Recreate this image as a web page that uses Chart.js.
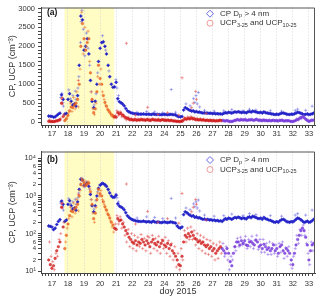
<!DOCTYPE html>
<html>
<head>
<meta charset="utf-8">
<script src="https://cdn.jsdelivr.net/npm/chart.js@4.4.1/dist/chart.umd.min.js"></script>
<style>
  body { margin: 0; background: #fff; width: 320px; height: 301px; overflow: hidden; position: relative; }
  canvas { position: absolute; left: 0; }
  #panelA { top: 0; }
  #panelB { top: 145px; }
</style>
</head>
<body>
<canvas id="panelA" width="320" height="145"></canvas>
<canvas id="panelB" width="320" height="156"></canvas>
<script>
// sampling of the main series: one value every 0.1 day, starting at doy 16.8
const dayStart = 16.8;
const dayStep = 0.1;
const xMin = 16.32, xMax = 33.38;
const shadeFrom = 17.78, shadeTo = 20.88;   // yellow period
const purpleFrom = 27.6;                    // UCP shown in purple after this day

const dayTicks = [17, 18, 19, 20, 21, 22, 23, 24, 25, 26, 27, 28, 29, 30, 31, 32, 33];
const linearTicks = [0, 500, 1000, 1500, 2000, 2500, 3000];
const logTicks = [10, 100, 1000, 10000];
const logMinorLabels = [2, 4, 6];

// CP Dp > 4 nm, 16.8 .. 33.3
const cpValues = [
  160, 155, 150, 128, 140, 175, 210, 235, 720, 600,
  210, 230, 600, 750, 550, 450, 480, 420, 700, 1500,
  2800, 2700, 1900, 2000, 2200, 1800, 1100, 550, 380, 550,
  1000, 1600, 1950, 2100, 2120, 2000, 1800, 1500, 1200, 1000,
  920, 930, 1050, 620, 540, 510, 480, 430, 360, 300,
  270, 250, 235, 228, 220, 215, 212, 210, 210, 215,
  208, 205, 210, 205, 200, 215, 205, 200, 205, 200,
  195, 200, 205, 200, 195, 200, 205, 200, 195, 190,
  160, 145, 140, 150, 320, 380, 360, 330, 310, 290,
  300, 270, 280, 260, 265, 250, 240, 245, 235, 240,
  230, 235, 225, 230, 220, 225, 215, 220, 210, 230,
  250, 240, 260, 250, 240, 255, 270, 260, 275, 265,
  250, 260, 255, 245, 270, 280, 265, 290, 280, 270,
  255, 250, 260, 240, 270, 250, 240, 230, 225, 215,
  205, 200, 210, 200, 220, 235, 240, 230, 210, 205,
  200, 210, 205, 220, 240, 260, 250, 235, 215, 200,
  205, 215, 200, 205, 220, 240
];
// UCP 3-25 / 10-25, 16.8 .. 27.5
const ucpValues = [
  20, 15, 12, 14, 22, 35, 45, 60, 500, 150,
  40, 90, 180, 300, 400, 380, 450, 500, 600, 1000,
  2000, 2600, 2200, 1900, 2100, 2200, 1300, 600, 250, 350,
  800, 1500, 1150, 1000, 700, 520, 420, 320, 260, 200,
  170, 140, 130, 250, 220, 230, 180, 150, 120, 100,
  80, 70, 60, 55, 65, 50, 60, 55, 70, 60,
  50, 65, 55, 45, 60, 70, 55, 50, 60, 45,
  55, 65, 50, 45, 55, 40, 50, 35, 30, 25,
  20, 15, 14, 25, 60, 90, 80, 100, 85, 110,
  90, 75, 70, 60, 65, 55, 60, 50, 45, 50,
  40, 45, 35, 40, 30, 35, 40, 45
];
// UCP, second instrument readings, 16.85 .. 27.55
const ucpSpread = [
  60, 25, 18, 11, 30, 25, 70, 100, 650, 200,
  60, 140, 250, 500, 280, 650, 350, 800, 400, 1400,
  2900, 1800, 2500, 2000, 2400, 1600, 800, 350, 200, 500,
  1200, 1000, 1400, 800, 600, 450, 350, 300, 220, 150,
  110, 180, 300, 180, 280, 140, 200, 90, 60, 130,
  45, 100, 40, 90, 35, 80, 45, 95, 40, 75,
  35, 85, 80, 30, 90, 40, 75, 35, 85, 30,
  70, 40, 80, 30, 65, 25, 55, 20, 45, 13,
  30, 11, 40, 20, 120, 60, 140, 70, 150, 70,
  120, 50, 100, 40, 90, 35, 80, 30, 70, 28,
  65, 25, 55, 20, 50, 22, 60, 30
];
// UCP after 27.6 (purple), 27.6 .. 33.3
const ucpLate = [
  40, 35, 30, 40, 30, 18, 14, 30, 45, 60,
  60, 50, 65, 55, 65, 50, 48, 60, 62, 55,
  50, 68, 60, 45, 50, 40, 52, 45, 38, 42,
  35, 40, 50, 35, 40, 30, 45, 50, 35, 30,
  40, 35, 30, 20, 15, 30, 50, 70, 90, 120,
  140, 120, 80, 50, 20, 35, 50, 55
];
// 27.65 .. 33.25
const ucpLateSpread = [
  55, 25, 45, 20, 11, 25, 20, 45, 35, 75,
  45, 80, 50, 55, 85, 40, 70, 45, 85, 40,
  65, 90, 38, 70, 32, 70, 32, 55, 28, 60,
  28, 55, 30, 50, 25, 55, 32, 60, 22, 42,
  25, 45, 15, 12, 25, 40, 90, 55, 130, 90,
  170, 90, 55, 30, 15, 60, 35
];
// isolated readings [doy, value]
const cpOutliers = [
  [17.55, 650], [17.62, 760], [17.68, 520], [17.72, 420], [18.05, 850], [18.15, 620],
  [18.3, 700], [18.45, 820], [18.5, 600], [18.62, 900], [18.68, 1200], [18.78, 2100],
  [18.82, 2650], [18.87, 2950], [18.95, 2450], [19.05, 1750], [19.15, 2350], [19.25, 1950],
  [19.35, 1500], [19.45, 800], [19.62, 450], [19.75, 750], [19.85, 1300], [20.15, 2280],
  [20.35, 1900], [20.55, 1350], [20.98, 1120], [21.05, 900], [21.15, 700], [22.3, 260],
  [22.9, 280], [23.4, 270], [23.9, 250], [24.43, 860], [24.7, 260], [25.35, 480],
  [25.6, 430], [25.82, 620], [25.9, 520], [25.97, 700], [26.05, 480], [26.12, 780],
  [26.2, 400], [26.5, 310], [27.1, 290], [27.7, 300], [28.2, 330], [28.9, 300],
  [29.3, 340], [29.7, 320], [30.6, 300], [31.3, 290], [32.15, 310], [32.3, 340],
  [32.8, 310], [33.2, 420]
];
const ucpOutliers = [
  [17.6, 620], [17.65, 480], [18.65, 1100], [21.64, 2080], [22.96, 390], [25.1, 1170],
  [25.7, 380], [25.8, 500], [25.95, 810], [26.0, 600], [24.2, 250], [22.2, 180],
  [23.6, 200], [24.9, 190], [26.6, 230]
];

const legendCP = [['CP D'], ['p', true], [' > 4 nm']];
const legendUCP = [['UCP'], ['3-25', true], [' and UCP'], ['10-25', true]];

const FONT = '"Liberation Sans", Arial, sans-serif';
Chart.defaults.font.family = FONT;
Chart.defaults.color = '#333';

function series(values, start) {
  return values.map((v, i) => ({ x: Math.round((start + i * dayStep) * 100) / 100, y: v }));
}
function pairs(list) {
  return list.map(p => ({ x: p[0], y: p[1] }));
}
function isInt(v) {
  return v != null && Math.abs(v - Math.round(v)) < 1e-6;
}
function inShade(x) {
  return x >= shadeFrom && x <= shadeTo;
}

function buildDatasets() {
  const ucpColor = c => inShade(c.raw.x) ? 'rgba(232,96,30,0.8)' : 'rgba(208,26,26,0.8)';
  const ucpLight = c => inShade(c.raw.x) ? 'rgba(236,120,50,0.55)' : 'rgba(222,60,60,0.45)';
  return [
    { data: series(ucpValues, dayStart), pointStyle: 'circle', pointRadius: 1.3,
      backgroundColor: ucpColor, borderColor: ucpColor, borderWidth: 0.5 },
    { data: series(ucpSpread, dayStart + 0.05), pointStyle: 'cross', pointRadius: 1.6,
      borderColor: ucpLight, borderWidth: 1 },
    { data: pairs(ucpOutliers), pointStyle: 'cross', pointRadius: 1.6,
      borderColor: 'rgba(225,80,80,0.55)', borderWidth: 1 },
    { data: series(ucpLate, purpleFrom), pointStyle: 'circle', pointRadius: 1.3,
      backgroundColor: 'rgba(120,60,220,0.85)', borderColor: 'rgba(120,60,220,0.85)', borderWidth: 0.5 },
    { data: series(ucpLateSpread, purpleFrom + 0.05), pointStyle: 'cross', pointRadius: 1.6,
      borderColor: 'rgba(140,95,230,0.5)', borderWidth: 1 },
    { data: series(cpValues, dayStart), pointStyle: 'rectRot', pointRadius: 1.6,
      backgroundColor: '#2323c8', borderColor: '#2323c8', borderWidth: 0.5 },
    { data: pairs(cpOutliers), pointStyle: 'cross', pointRadius: 1.6,
      borderColor: 'rgba(110,110,225,0.55)', borderWidth: 1 }
  ];
}

function drawRich(ctx, x, y, parts) {
  for (const [t, sub] of parts) {
    ctx.font = (sub ? '5.5px ' : '8px ') + FONT;
    ctx.fillText(t, x, sub ? y + 2 : y);
    x += ctx.measureText(t).width;
  }
}

const panelDeco = {
  id: 'panelDeco',
  beforeDraw(chart) {
    const { ctx, chartArea: a, scales: { x } } = chart;
    const x0 = x.getPixelForValue(shadeFrom), x1 = x.getPixelForValue(shadeTo);
    ctx.save();
    ctx.fillStyle = '#fffcc4';
    ctx.fillRect(x0, a.top, x1 - x0, a.bottom - a.top);
    ctx.restore();
  },
  afterDraw(chart, args, opts) {
    const { ctx, chartArea: a } = chart;
    ctx.save();
    // frame top/right
    ctx.strokeStyle = '#555';
    ctx.lineWidth = 1;
    ctx.beginPath();
    ctx.moveTo(a.left, a.top + 0.5);
    ctx.lineTo(a.right - 0.5, a.top + 0.5);
    ctx.lineTo(a.right - 0.5, a.bottom);
    ctx.stroke();
    // panel label
    ctx.fillStyle = '#111';
    ctx.textBaseline = 'middle';
    ctx.font = 'bold 8.5px ' + FONT;
    ctx.fillText(opts.label, 47, opts.labelY);
    // legend
    const ly = opts.legendY;
    ctx.strokeStyle = '#6b6be6';
    ctx.beginPath();
    ctx.moveTo(210, ly - 3.5); ctx.lineTo(213.5, ly); ctx.lineTo(210, ly + 3.5); ctx.lineTo(206.5, ly);
    ctx.closePath();
    ctx.stroke();
    ctx.strokeStyle = '#f09a9a';
    ctx.beginPath();
    ctx.arc(210, ly + 9.5, 3, 0, Math.PI * 2);
    ctx.stroke();
    ctx.fillStyle = '#333';
    drawRich(ctx, 220, ly, legendCP);
    drawRich(ctx, 220, ly + 9.5, legendUCP);
    ctx.restore();
  }
};

const supDigits = { 1: '\u00b9', 2: '\u00b2', 3: '\u00b3', 4: '\u2074' };

function xScale(height, showTitle, pad) {
  return {
    type: 'linear', min: xMin, max: xMax,
    afterBuildTicks(s) {
      const t = [];
      for (let k = 82; k <= 166; k++) t.push({ value: k / 5 });
      s.ticks = t;
    },
    afterFit(s) { s.height = height; },
    ticks: {
      autoSkip: false, maxRotation: 0, padding: pad, font: { size: 7.5 },
      callback: v => (isInt(v) && dayTicks.includes(Math.round(v))) ? String(Math.round(v)) : ''
    },
    grid: {
      color: c => (c.tick && isInt(c.tick.value)) ? '#d6d6d6' : 'rgba(0,0,0,0)',
      tickColor: '#444', tickLength: 3, lineWidth: 1
    },
    border: { color: '#444', dash: [1, 2] },
    title: { display: showTitle, text: 'doy 2015', font: { size: 9 }, padding: { top: 0, bottom: 4 } }
  };
}

const yTitle = { display: true, text: 'CP, UCP (cm\u207b\u00b3)', font: { size: 9 }, padding: { top: 7, bottom: 0 } };

function makePanel(id, logScale) {
  const yOpts = logScale ? {
    type: 'logarithmic', min: 9, max: 15200,
    afterBuildTicks(s) {
      const t = [];
      for (const d of logTicks.slice(0, 3)) for (let m = 1; m <= 9; m++) t.push({ value: m * d });
      t.push({ value: logTicks[3] });
      s.ticks = t;
    },
    afterFit(s) { s.width = 41; },
    ticks: {
      autoSkip: false, padding: 2,
      font: c => ({ size: (c.tick && logTicks.includes(c.tick.value)) ? 7.5 : 6 }),
      callback: v => {
        if (logTicks.includes(v)) return '10' + supDigits[Math.round(Math.log10(v))];
        const m = Math.round(v / Math.pow(10, Math.floor(Math.log10(v) + 1e-9)));
        return logMinorLabels.includes(m) ? String(m) : '';
      }
    },
    grid: { drawOnChartArea: false, tickColor: '#444', tickLength: 3 },
    border: { color: '#444' },
    title: yTitle
  } : {
    type: 'linear', min: -76, max: 3025,
    afterBuildTicks(s) {
      const t = [];
      for (let v = 0; v <= 3000; v += 100) t.push({ value: v });
      s.ticks = t;
    },
    afterFit(s) { s.width = 41; },
    ticks: {
      autoSkip: false, padding: 3, font: { size: 7.5 },
      callback: v => linearTicks.includes(v) ? String(v) : ''
    },
    grid: { drawOnChartArea: false, tickColor: '#444', tickLength: 3 },
    border: { color: '#444' },
    title: yTitle
  };
  return new Chart(document.getElementById(id).getContext('2d'), {
    type: 'scatter',
    data: { datasets: buildDatasets() },
    options: {
      responsive: false,
      animation: false,
      events: [],
      layout: { padding: { top: 3, right: 4, left: 0, bottom: 0 } },
      scales: {
        x: logScale ? xScale(28, true, 3) : xScale(20, false, 1),
        y: yOpts
      },
      plugins: {
        legend: { display: false },
        tooltip: { enabled: false },
        panelDeco: logScale
          ? { label: '(b)', labelY: 15, legendY: 15 }
          : { label: '(a)', labelY: 12.5, legendY: 13.7 }
      }
    },
    plugins: [panelDeco]
  });
}

makePanel('panelA', false);
makePanel('panelB', true);
</script>
</body>
</html>
